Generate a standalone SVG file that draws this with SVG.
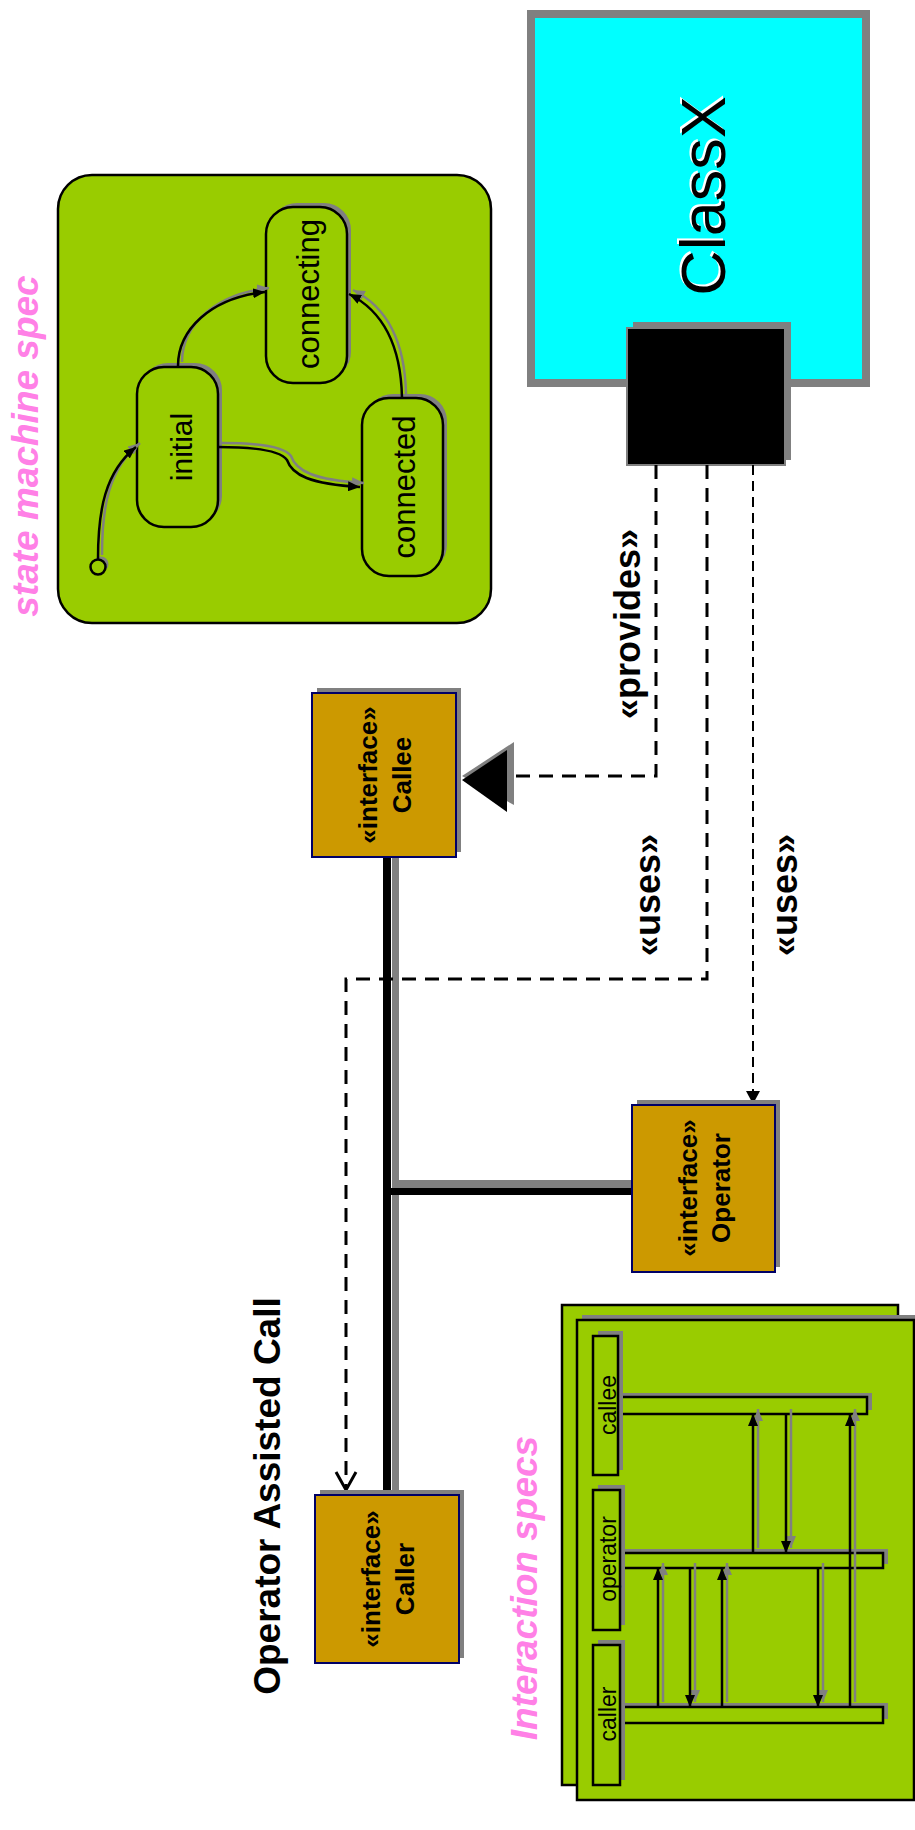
<svg xmlns="http://www.w3.org/2000/svg" width="915" height="1830" viewBox="0 0 915 1830">
  <defs>
    <style>
      .shadow { fill: #808080; stroke: none; }
      .iface { fill: #CC9900; stroke: #000066; stroke-width: 2; }
      .green { fill: #99CC00; stroke: #000; stroke-width: 2.5; }
      .state { fill: #99CC00; stroke: #000; stroke-width: 2.5; }
      .lbl { font-family: "Liberation Sans", Arial, sans-serif; fill: #000; text-anchor: middle; }
      .bold { font-weight: bold; }
      .pink { font-family: "Liberation Sans", Arial, sans-serif; font-weight: bold; font-style: italic; fill: #FF80E6; font-size: 37px; text-anchor: middle; }
      .dash { fill: none; stroke: #000; stroke-width: 3; stroke-dasharray: 14 9; }
      .dashfine { fill: none; stroke: #000; stroke-width: 2; stroke-dasharray: 10 6; }
      .trans { fill: none; stroke: #000; stroke-width: 2.5; marker-end: url(#ahBlack); }
      .transGray { fill: none; stroke: #808080; stroke-width: 2.5; marker-end: url(#ahGray); }
      .msg { fill: none; stroke: #000; stroke-width: 2.5; marker-end: url(#ahBlack); }
      .msgGray { fill: none; stroke: #808080; stroke-width: 2.5; marker-end: url(#ahGray); }
    </style>
    <marker id="ahBlack" viewBox="0 0 12 10" refX="12" refY="5" markerWidth="12" markerHeight="10" markerUnits="userSpaceOnUse" orient="auto">
      <path d="M0,0 L12,5 L0,10 z" fill="#000"/>
    </marker>
    <marker id="ahGray" viewBox="0 0 12 10" refX="12" refY="5" markerWidth="12" markerHeight="10" markerUnits="userSpaceOnUse" orient="auto">
      <path d="M0,0 L12,5 L0,10 z" fill="#808080"/>
    </marker>
  </defs>

  <rect width="915" height="1830" fill="#fff"/>

  <!-- Section titles -->
  <text class="pink" x="38" y="446" transform="rotate(-90 38 446)">state machine spec</text>
  <text class="pink" x="537" y="1588" transform="rotate(-90 537 1588)">Interaction specs</text>
  <text class="lbl bold" x="280" y="1496" font-size="37" transform="rotate(-90 280 1496)">Operator Assisted Call</text>

  <!-- State machine -->
  <g id="state-machine">
    <rect class="green" x="58" y="175" width="433" height="448" rx="34" ry="34"/>
    <g id="pseudo-initial">
      <circle cx="101" cy="564" r="7.5" fill="#808080"/>
      <circle cx="98" cy="567" r="7.5" fill="#99CC00" stroke="#000" stroke-width="2.5"/>
    </g>
    <g id="state-initial">
      <rect class="shadow" x="141" y="363" width="81" height="160" rx="27"/>
      <rect class="state" x="137" y="367" width="81" height="160" rx="27"/>
      <text class="lbl" x="192" y="447" font-size="30" transform="rotate(-90 192 447)">initial</text>
    </g>
    <g id="state-connecting">
      <rect class="shadow" x="270" y="203" width="81" height="176" rx="27"/>
      <rect class="state" x="266" y="207" width="81" height="176" rx="27"/>
      <text class="lbl" x="319" y="294" font-size="31" transform="rotate(-90 319 294)">connecting</text>
    </g>
    <g id="state-connected">
      <rect class="shadow" x="366" y="394" width="81" height="178" rx="27"/>
      <rect class="state" x="362" y="398" width="81" height="178" rx="27"/>
      <text class="lbl" x="415" y="487" font-size="31" transform="rotate(-90 415 487)">connected</text>
    </g>
    <!-- transitions -->
    <g id="transitions">
      <g transform="translate(4,-4)">
        <path class="transGray" d="M98,559 C98,510 105,472 136,447"/>
        <path class="transGray" d="M178,366 C178,330 210,298 265,292"/>
        <path class="transGray" d="M218,447 C250,447 280,450 287,460 C292,475 310,484 360,487"/>
        <path class="transGray" d="M402,398 C401,348 385,312 349,294"/>
      </g>
      <path class="trans" d="M98,559 C98,510 105,472 136,447"/>
      <path class="trans" d="M178,366 C178,330 210,298 265,292"/>
      <path class="trans" d="M218,447 C250,447 280,450 287,460 C292,475 310,484 360,487"/>
      <path class="trans" d="M402,398 C401,348 385,312 349,294"/>
    </g>
  </g>

  <!-- ClassX with its port -->
  <g id="classx">
    <rect x="531" y="14" width="335" height="369" fill="#00FFFF" stroke="#808080" stroke-width="8"/>
    <text class="lbl" x="723" y="194" font-size="63" style="fill:#fff" transform="rotate(-90 723 194)">ClassX</text>
    <text class="lbl" x="725" y="196" font-size="63" transform="rotate(-90 725 196)">ClassX</text>
  </g>
  <g id="port">
    <rect class="shadow" x="633" y="322" width="158" height="138"/>
    <rect x="627" y="328" width="158" height="137" fill="#000" stroke="#808080" stroke-width="2"/>
  </g>

  <!-- Connectors -->
  <g id="connectors">
    <!-- interface tree -->
    <line x1="395.5" y1="852" x2="395.5" y2="1490" stroke="#808080" stroke-width="7"/>
    <line x1="392" y1="1184" x2="632" y2="1184" stroke="#808080" stroke-width="8"/>
    <line x1="387" y1="857" x2="387" y2="1495" stroke="#000" stroke-width="8"/>
    <line x1="383" y1="1191.5" x2="632" y2="1191.5" stroke="#000" stroke-width="7"/>

    <!-- provides -->
    <path class="dash" d="M656,465 V776 H510"/>
    <polygon points="462,776 514,742 514,805" fill="#808080"/>
    <polygon points="462,780 507,750 507,812" fill="#000"/>

    <!-- uses (Caller) -->
    <path class="dash" d="M707,465 V979 H346 V1488"/>
    <polyline points="336,1472 346,1490 356,1472" fill="none" stroke="#000" stroke-width="3"/>

    <!-- uses (Operator) -->
    <path class="dashfine" d="M753,465 V1092"/>
    <polygon points="746,1091 760,1091 753,1104" fill="#000"/>
  </g>

  <text class="lbl bold" x="640" y="624" font-size="36" transform="rotate(-90 640 624)">«provides»</text>
  <text class="lbl bold" x="660" y="895" font-size="36" transform="rotate(-90 660 895)">«uses»</text>
  <text class="lbl bold" x="797" y="895" font-size="36" transform="rotate(-90 797 895)">«uses»</text>

  <!-- Interfaces -->
  <g id="callee">
    <rect class="shadow" x="317" y="688" width="144" height="164"/>
    <rect class="iface" x="312" y="693" width="144" height="164"/>
    <text class="lbl bold" x="377" y="775" font-size="26" transform="rotate(-90 377 775)">«interface»</text>
    <text class="lbl bold" x="411" y="775" font-size="26" transform="rotate(-90 411 775)">Callee</text>
  </g>
  <g id="operator">
    <rect class="shadow" x="637" y="1100" width="143" height="167"/>
    <rect class="iface" x="632" y="1105" width="143" height="167"/>
    <text class="lbl bold" x="697" y="1188" font-size="26" transform="rotate(-90 697 1188)">«interface»</text>
    <text class="lbl bold" x="730" y="1188" font-size="26" transform="rotate(-90 730 1188)">Operator</text>
  </g>
  <g id="caller">
    <rect class="shadow" x="320" y="1490" width="144" height="168"/>
    <rect class="iface" x="315" y="1495" width="144" height="168"/>
    <text class="lbl bold" x="380" y="1579" font-size="26" transform="rotate(-90 380 1579)">«interface»</text>
    <text class="lbl bold" x="414" y="1579" font-size="26" transform="rotate(-90 414 1579)">Caller</text>
  </g>

  <!-- Interaction spec frames -->
  <g id="interaction-specs">
    <rect class="green" x="562" y="1305" width="336" height="480"/>
    <rect class="shadow" x="582" y="1315" width="337" height="480"/>
    <rect class="green" x="577" y="1320" width="337" height="480"/>

    <!-- lifeline bars -->
    <rect class="shadow" x="623" y="1393" width="249" height="17"/>
    <rect class="shadow" x="625" y="1549" width="263" height="15"/>
    <rect class="shadow" x="625" y="1703" width="263" height="16"/>
    <rect class="green" x="618" y="1397" width="249" height="17"/>
    <rect class="green" x="620" y="1553" width="263" height="15"/>
    <rect class="green" x="620" y="1707" width="263" height="16"/>

    <!-- lifeline heads -->
    <g id="lifeline-callee">
      <rect class="shadow" x="598" y="1331" width="25" height="139"/>
      <rect class="green" x="593" y="1336" width="25" height="139"/>
      <text class="lbl" x="616" y="1405" font-size="23" transform="rotate(-90 616 1405)">callee</text>
    </g>
    <g id="lifeline-operator">
      <rect class="shadow" x="598" y="1485" width="27" height="140"/>
      <rect class="green" x="593" y="1490" width="27" height="140"/>
      <text class="lbl" x="616" y="1559" font-size="23" transform="rotate(-90 616 1559)">operator</text>
    </g>
    <g id="lifeline-caller">
      <rect class="shadow" x="598" y="1640" width="27" height="140"/>
      <rect class="green" x="593" y="1645" width="27" height="140"/>
      <text class="lbl" x="616" y="1714" font-size="23" transform="rotate(-90 616 1714)">caller</text>
    </g>

    <!-- messages -->
    <g id="messages">
      <g transform="translate(5,-5)">
        <line class="msgGray" x1="658" y1="1707" x2="658" y2="1568"/>
        <line class="msgGray" x1="690" y1="1568" x2="690" y2="1707"/>
        <line class="msgGray" x1="722" y1="1707" x2="722" y2="1568"/>
        <line class="msgGray" x1="753" y1="1553" x2="753" y2="1414"/>
        <line class="msgGray" x1="786" y1="1414" x2="786" y2="1553"/>
        <line class="msgGray" x1="818" y1="1568" x2="818" y2="1707"/>
        <line class="msgGray" x1="850" y1="1707" x2="850" y2="1414"/>
      </g>
      <line class="msg" x1="658" y1="1707" x2="658" y2="1568"/>
      <line class="msg" x1="690" y1="1568" x2="690" y2="1707"/>
      <line class="msg" x1="722" y1="1707" x2="722" y2="1568"/>
      <line class="msg" x1="753" y1="1553" x2="753" y2="1414"/>
      <line class="msg" x1="786" y1="1414" x2="786" y2="1553"/>
      <line class="msg" x1="818" y1="1568" x2="818" y2="1707"/>
      <line class="msg" x1="850" y1="1707" x2="850" y2="1414"/>
    </g>
  </g>
</svg>
